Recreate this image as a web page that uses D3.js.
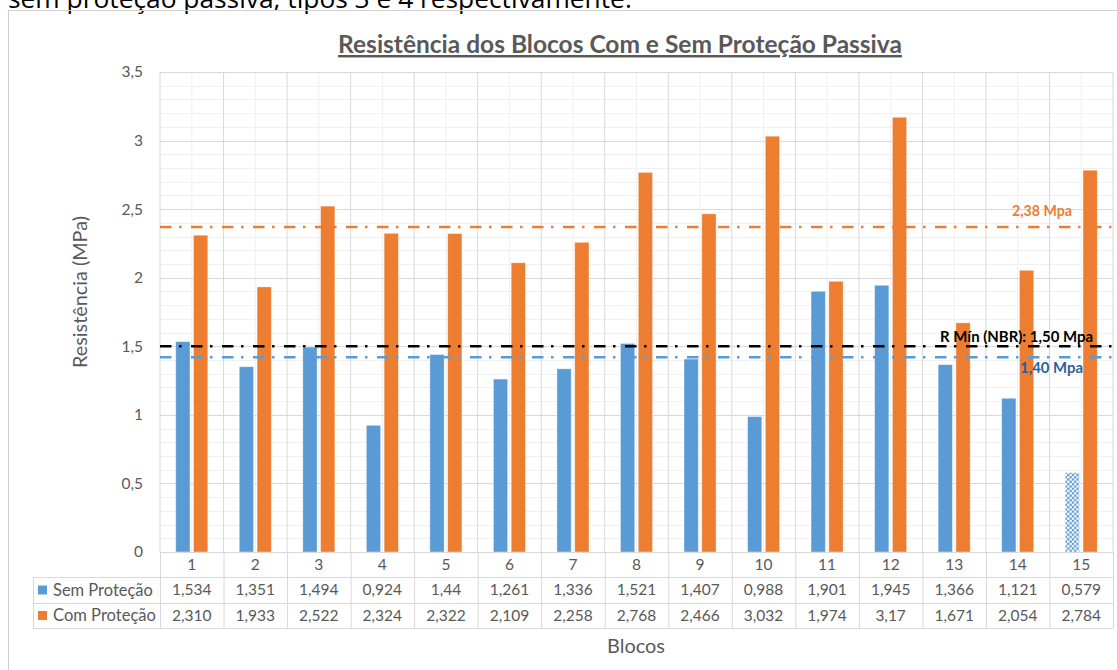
<!DOCTYPE html>
<html><head><meta charset="utf-8">
<script src="https://cdn.jsdelivr.net/npm/d3@7"></script>
<style>html,body{margin:0;padding:0;background:#fff;overflow:hidden}</style>
</head><body>
<svg id="c" width="1117" height="670"></svg>
<script>
// ---- data ----
const categories = ["1","2","3","4","5","6","7","8","9","10","11","12","13","14","15"];
const semProtecao = [1.534,1.351,1.494,0.924,1.44,1.261,1.336,1.521,1.407,0.988,1.901,1.945,1.366,1.121,0.579];
const comProtecao = [2.310,1.933,2.522,2.324,2.322,2.109,2.258,2.768,2.466,3.032,1.974,3.17,1.671,2.054,2.784];
const semLabels = ["1,534","1,351","1,494","0,924","1,44","1,261","1,336","1,521","1,407","0,988","1,901","1,945","1,366","1,121","0,579"];
const comLabels = ["2,310","1,933","2,522","2,324","2,322","2,109","2,258","2,768","2,466","3,032","1,974","3,17","1,671","2,054","2,784"];
const seriesNames = ["Sem Proteção","Com Proteção"];
const patternedSem = ["15"];
const yTicks = [0,0.5,1,1.5,2,2.5,3,3.5];
const yTickLabels = ["0","0,5","1","1,5","2","2,5","3","3,5"];
const refValues = [2.37, 1.5, 1.42];
const refLabels = ["2,38 Mpa", "R Mín (NBR): 1,50 Mpa", "1,40 Mpa"];

const blue = "#5B9BD5", orange = "#ED7D31";
const svg = d3.select("#c");
const font = "Lato, 'Open Sans', sans-serif";
const txt = "#595959";

function fit(sel, target) {
  const fs = +sel.attr("font-size");
  const w = sel.node().getComputedTextLength();
  if (w > 0) sel.attr("font-size", fs * target / w);
  return sel;
}

// document text cut at the top
fit(svg.append("text").attr("x", 8).attr("y", 8).attr("font-family", "'Open Sans', sans-serif")
  .attr("font-size", 24).attr("fill", "#000")
  .text("sem proteção passiva, tipos 3 e 4 respectivamente."), 624);

// chart border
svg.append("rect").attr("x", 8.5).attr("y", 10.5).attr("width", 1130).attr("height", 700)
  .attr("fill", "none").attr("stroke", "#d0d0d0").attr("stroke-width", 1);

const L = 160, R = 1113, T = 72, B = 552;
const x = d3.scaleBand().domain(categories).range([L, R]).padding(0);
const y = d3.scaleLinear().domain([0, 3.5]).range([B, T]);
const bw = x.bandwidth();

const defs = svg.append("defs");
const pat = defs.append("pattern").attr("id", "chk").attr("patternUnits", "userSpaceOnUse")
  .attr("width", 4.6).attr("height", 4.6);
pat.append("rect").attr("width", 4.6).attr("height", 4.6).attr("fill", "#fff");
pat.append("rect").attr("width", 2.3).attr("height", 2.3).attr("fill", blue);
pat.append("rect").attr("x", 2.3).attr("y", 2.3).attr("width", 2.3).attr("height", 2.3).attr("fill", blue);

// gridlines
const g = svg.append("g");
const minor = d3.range(0, 3.5001, 0.1).map(v => +v.toFixed(2));
g.selectAll(".hmin").data(minor.filter(v => Math.abs(v*2 - Math.round(v*2)) > 1e-6)).join("line")
  .attr("x1", L).attr("x2", R).attr("y1", d => Math.round(y(d)) + 0.5).attr("y2", d => Math.round(y(d)) + 0.5)
  .attr("stroke", "#f0f0f0");
g.selectAll(".vmin").data(categories).join("line")
  .attr("x1", d => x(d) + bw/2).attr("x2", d => x(d) + bw/2).attr("y1", T).attr("y2", B)
  .attr("stroke", "#f0f0f0");
g.selectAll(".hmaj").data(yTicks.slice(1)).join("line")
  .attr("x1", L).attr("x2", R).attr("y1", d => Math.round(y(d)) + 0.5).attr("y2", d => Math.round(y(d)) + 0.5)
  .attr("stroke", "#d9d9d9");
g.selectAll(".vmaj").data(categories.concat(["end"])).join("line")
  .attr("x1", d => d === "end" ? R : x(d)).attr("x2", d => d === "end" ? R : x(d))
  .attr("y1", T).attr("y2", B).attr("stroke", "#d9d9d9");

// y tick labels
svg.append("g").selectAll("text").data(yTicks).join("text")
  .attr("x", 143).attr("y", d => y(d)).attr("dy", "0.35em").attr("text-anchor", "end")
  .attr("font-family", font).attr("font-size", 15.5).attr("fill", txt)
  .text((d, i) => yTickLabels[i]);

// bars
const barW = bw * 0.225, gap = bw * 0.055;
const bars = svg.append("g");
bars.selectAll(".s").data(categories).join("rect")
  .attr("x", d => x(d) + bw/2 - gap/2 - barW).attr("width", barW)
  .attr("y", (d, i) => y(semProtecao[i])).attr("height", (d, i) => B - y(semProtecao[i]))
  .attr("fill", d => patternedSem.includes(d) ? "url(#chk)" : blue)
  .attr("stroke", "#ffffff").attr("stroke-opacity", 0.5).attr("stroke-width", 0.8);
bars.selectAll(".c").data(categories).join("rect")
  .attr("x", d => x(d) + bw/2 + gap/2).attr("width", barW)
  .attr("y", (d, i) => y(comProtecao[i])).attr("height", (d, i) => B - y(comProtecao[i]))
  .attr("fill", orange)
  .attr("stroke", "#ffffff").attr("stroke-opacity", 0.5).attr("stroke-width", 0.8);

// reference lines
const refColors = [orange, "#000000", blue];
const refWidths = [2.6, 2.6, 2.4];
svg.append("g").selectAll("line").data(refValues).join("line")
  .attr("x1", L).attr("x2", R).attr("y1", d => y(d)).attr("y2", d => y(d))
  .attr("stroke", (d, i) => refColors[i]).attr("stroke-width", (d, i) => refWidths[i])
  .attr("stroke-dasharray", "11.5,7.5,2.5,9.5");
const labColors = ["#ED7D31", "#000000", "#2F5F98"];
const labX = [1072, 1093, 1083];
const labDy = [-16, -10, 11];
const labW = [60, 153, 63];
svg.append("g").selectAll("text").data(refValues).join("text")
  .attr("x", (d, i) => labX[i]).attr("y", (d, i) => y(d) + labDy[i]).attr("dy", "0.35em")
  .attr("text-anchor", "end").attr("font-family", font).attr("font-weight", "bold")
  .attr("font-size", 14).attr("fill", (d, i) => labColors[i])
  .text((d, i) => refLabels[i])
  .each(function(d, i) { fit(d3.select(this), labW[i]); });

// data table
const rowY = [552, 577, 603, 628];
const tb = svg.append("g");
tb.selectAll(".hl").data(rowY).join("line")
  .attr("x1", (d, i) => i === 0 ? L : 33).attr("x2", R)
  .attr("y1", d => d + 0.5).attr("y2", d => d + 0.5).attr("stroke", "#d9d9d9");
tb.selectAll(".vl").data(categories.concat(["end"])).join("line")
  .attr("x1", d => (d === "end" ? R : x(d)) + 0.5).attr("x2", d => (d === "end" ? R : x(d)) + 0.5)
  .attr("y1", 552).attr("y2", 628).attr("stroke", "#d9d9d9");
tb.append("line").attr("x1", 33.5).attr("x2", 33.5).attr("y1", 577).attr("y2", 628).attr("stroke", "#d9d9d9");
tb.selectAll(".hd").data(categories).join("text")
  .attr("x", d => x(d) + bw/2).attr("y", (rowY[0] + rowY[1]) / 2).attr("dy", "0.35em")
  .attr("text-anchor", "middle").attr("font-family", font).attr("font-size", 15.5).attr("fill", txt)
  .text(d => d);
[semLabels, comLabels].forEach((labs, r) => {
  tb.selectAll(".r" + r).data(categories).join("text")
    .attr("x", d => x(d) + bw/2).attr("y", (rowY[r+1] + rowY[r+2]) / 2).attr("dy", "0.35em")
    .attr("text-anchor", "middle").attr("font-family", font).attr("font-size", 15.5).attr("fill", txt)
    .text((d, i) => labs[i]);
  const cy = (rowY[r+1] + rowY[r+2]) / 2;
  tb.append("rect").attr("x", 38).attr("y", cy - 4.5).attr("width", 9).attr("height", 9)
    .attr("fill", r === 0 ? blue : orange);
  fit(tb.append("text").attr("x", 53).attr("y", cy).attr("dy", "0.35em")
    .attr("font-family", font).attr("font-size", 15).attr("fill", txt).text(seriesNames[r]), r === 0 ? 100 : 103);
});

// titles
fit(svg.append("text").attr("x", 620).attr("y", 53).attr("text-anchor", "middle")
  .attr("font-family", font).attr("font-weight", "bold").attr("font-size", 20).attr("fill", txt)
  .attr("text-decoration", "underline")
  .text("Resistência dos Blocos Com e Sem Proteção Passiva"), 564);
fit(svg.append("text").attr("transform", "translate(87,292) rotate(-90)").attr("text-anchor", "middle")
  .attr("font-family", font).attr("font-size", 17.5).attr("fill", txt).text("Resistência (MPa)"), 152);
fit(svg.append("text").attr("x", 636).attr("y", 646).attr("dy", "0.35em").attr("text-anchor", "middle")
  .attr("font-family", font).attr("font-size", 18).attr("fill", txt).text("Blocos"), 58);
</script>
</body></html>
